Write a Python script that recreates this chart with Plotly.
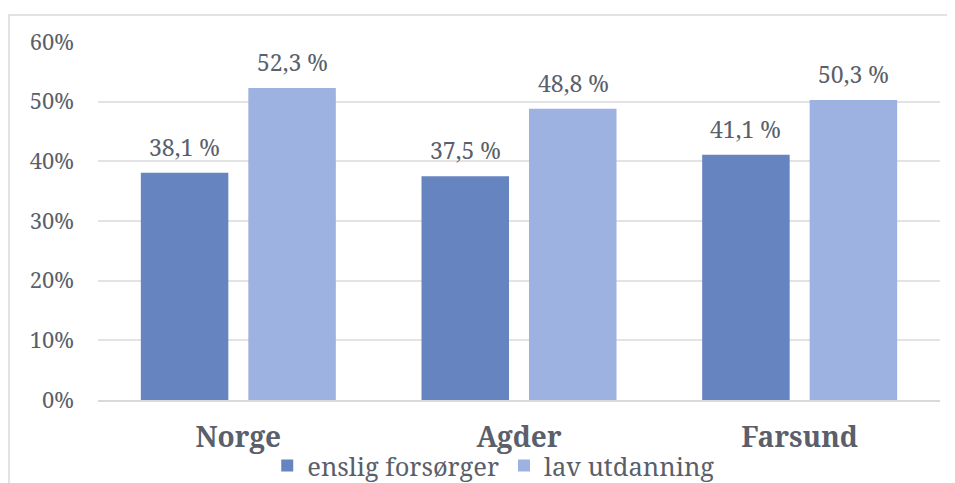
import plotly.graph_objects as go

categories = ["Norge", "Agder", "Farsund"]
enslig = [38.1, 37.5, 41.1]
lav = [52.3, 48.8, 50.3]
series_names = ["enslig forsørger", "lav utdanning"]

FONT = "Noto Serif"
TXT = "#5a5f6b"
COLORS = ["#6584c0", "#9db2e0"]

fig = go.Figure()
for name, vals, col in zip(series_names, [enslig, lav], COLORS):
    fig.add_trace(go.Bar(
        x=categories, y=vals, name=name,
        marker=dict(color=col, line=dict(width=0)),
    ))

# data labels placed above each bar (offset within group)
for vals, dx in zip([enslig, lav], [-54, 54]):
    for c, v in zip(categories, vals):
        fig.add_annotation(x=c, y=v, xref="x", yref="y", text=f"{v:.1f} %".replace(".", ","),
                           showarrow=False, xshift=dx, yshift=8, yanchor="bottom",
                           font=dict(family=FONT, size=23, color=TXT))

fig.update_layout(
    width=947, height=475,
    margin=dict(l=90, r=15, t=34, b=83),
    paper_bgcolor="white", plot_bgcolor="white",
    separators=", ",
    barmode="group", bargap=0.234, bargroupgap=0.186,
    font=dict(family=FONT, color=TXT, size=22),
    showlegend=True,
    legend=dict(orientation="h", x=0.47, xanchor="center", xref="paper",
                y=0.0358, yanchor="middle", yref="container",
                bgcolor="rgba(0,0,0,0)",
                font=dict(family=FONT, size=25.5, color=TXT),
                traceorder="normal"),
    xaxis=dict(showgrid=False, showline=True, linecolor="#d9d9d9", linewidth=1.5,
               tickfont=dict(family=FONT, size=28, color=TXT, weight="bold"),
               ticks="", ticklabelstandoff=12, automargin=False),
    yaxis=dict(range=[0, 60], dtick=10, ticksuffix="%", showgrid=True,
               gridcolor="#e3e3e3", gridwidth=1.5, zeroline=False, showline=False,
               tickfont=dict(family=FONT, size=22, color=TXT), ticks="",
               ticklabelstandoff=23, automargin=False),
    shapes=[dict(type="rect", xref="paper", yref="paper",
                 x0=-0.1057, x1=1.2, y0=-0.3, y1=1.0754,
                 line=dict(color="#d9d9d9", width=1.5), fillcolor="rgba(0,0,0,0)")],
)

fig.write_html("out.html")
